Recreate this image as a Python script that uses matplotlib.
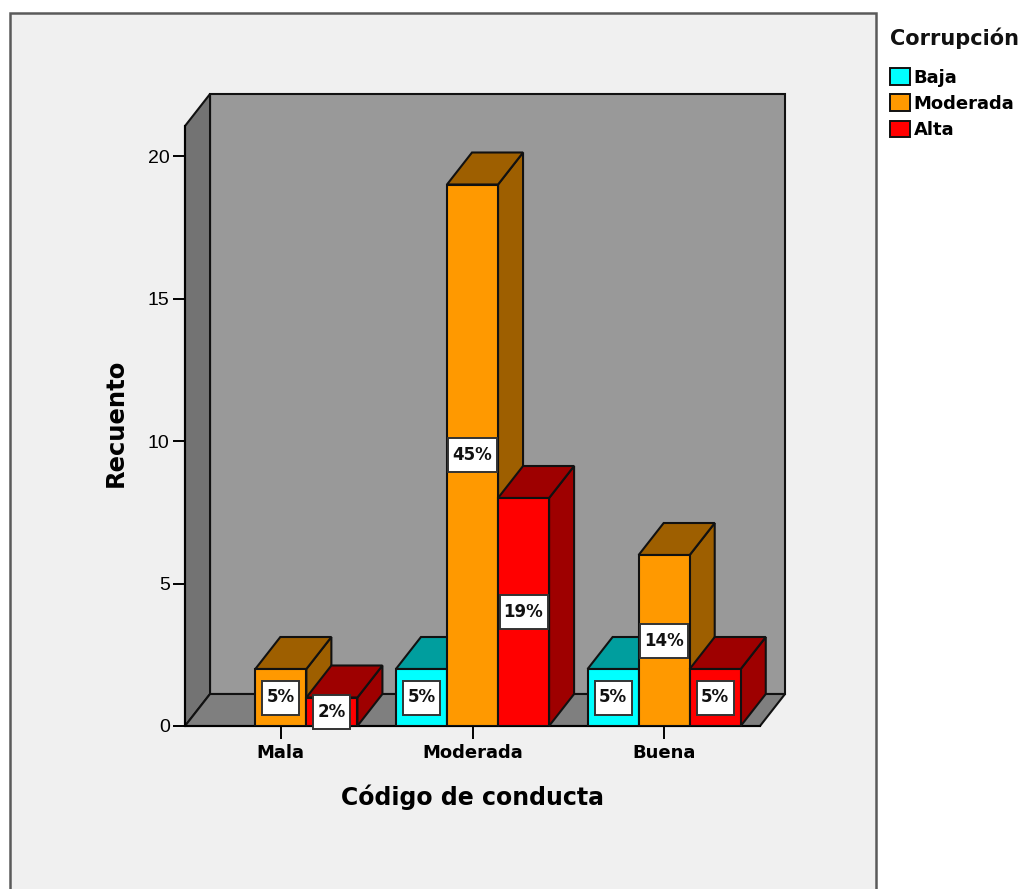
import matplotlib
matplotlib.use("Agg")
import matplotlib.pyplot as plt
from matplotlib.patches import Polygon, Rectangle, Patch
import matplotlib.colors as mcolors

# data
groups = ["Mala", "Moderada", "Buena"]
series = ["Baja", "Moderada", "Alta"]
baja = [0, 2, 2]
moderada = [2, 19, 6]
alta = [1, 8, 2]
pct_baja = ["", "5%", "5%"]
pct_moderada = ["5%", "45%", "14%"]
pct_alta = ["2%", "19%", "5%"]
yticks = [0, 5, 10, 15, 20]

colors = ["#00ffff", "#ff9900", "#ff0000"]
W, H = 1022, 889
plt.rcParams["font.family"] = ["DejaVu Sans"]

fig = plt.figure(figsize=(W / 100, H / 100), dpi=100, facecolor="white")

# grey panel behind the chart
fig.add_artist(Rectangle((10 / W, -0.01), 866 / W, (889 - 13) / H + 0.01, transform=fig.transFigure,
                         facecolor="#f0f0f0", edgecolor="#5a5a5a", lw=1.8, zorder=-1))

ax = fig.add_axes([185 / W, (889 - 726) / H, 575 / W, 600 / H])
ax.set_xlim(-0.5, 2.5)
ax.set_ylim(0, 600 / 28.5)
ax.patch.set_visible(False)
for s in ["top", "right"]:
    ax.spines[s].set_visible(False)
ax.spines["left"].set_linewidth(1.5)
ax.spines["bottom"].set_linewidth(1.5)

# depth of the 3d box in data units
dx = 25 / 191.5
dy = 32 / 28.5
x0, x1 = ax.get_xlim()
y1 = ax.get_ylim()[1]
edge = "#111111"


def poly(pts, color, z=1):
    ax.add_patch(Polygon(pts, closed=True, facecolor=color, edgecolor=edge, lw=1.5, clip_on=False, zorder=z))


poly([(x0 + dx, dy), (x1 + dx, dy), (x1 + dx, y1 + dy), (x0 + dx, y1 + dy)], "#999999")
poly([(x0, 0), (x0 + dx, dy), (x0 + dx, y1 + dy), (x0, y1)], "#737373")
poly([(x0, 0), (x1, 0), (x1 + dx, dy), (x0 + dx, dy)], "#7f7f7f")

barw = 51 / 191.5
offsets = [-barw, 0, barw]
values = [baja, moderada, alta]
labels = [pct_baja, pct_moderada, pct_alta]


def shade(c, f):
    r, g, b = mcolors.to_rgb(c)
    return (r * f, g * f, b * f)


for g in range(len(groups)):
    for s in range(len(series)):
        v = values[s][g]
        if v == 0:
            continue
        left = g + offsets[s] - barw / 2
        right = left + barw
        z = 3
        side_c = shade(colors[s], 0.62)
        poly([(right, 0), (right + dx, dy), (right + dx, v + dy), (right, v)], side_c, z)
        poly([(left, v), (right, v), (right + dx, v + dy), (left + dx, v + dy)], side_c, z)
        ax.bar(left, v, width=barw, align="edge", color=colors[s], edgecolor=edge, lw=1.5, zorder=z)

# percent labels go on top of all the bars, boxes have a fixed height
box_h = 34 / 28.5
for g in range(len(groups)):
    for s in range(len(series)):
        lab = labels[s][g]
        if lab:
            xc = g + offsets[s]
            yc = values[s][g] / 2
            box_w = (15 + 11 * len(lab)) / 191.5
            ax.add_patch(Rectangle((xc - box_w / 2, yc - box_h / 2), box_w, box_h, facecolor="white",
                                   edgecolor="#333333", lw=1.4, zorder=6, clip_on=False))
            ax.text(xc, yc, lab, ha="center", va="center", fontsize=12, fontweight="bold",
                    color="#111111", zorder=7, clip_on=False)

ax.set_yticks(yticks)
ax.set_xticks(range(len(groups)))
ax.set_xticklabels(groups, fontsize=13, fontweight="bold")
ax.tick_params(axis="y", labelsize=13, length=9, width=1.4, pad=2)
ax.tick_params(axis="x", length=9, width=1.4, pad=4)
for t in ax.get_yticklabels():
    t.set_fontfamily("Liberation Sans")
    t.set_fontsize(14)
ax.set_xlabel("Código de conducta", fontsize=17, fontweight="bold", labelpad=16)
ax.set_ylabel("Recuento", fontsize=17.5, fontweight="bold", labelpad=12)
ax.yaxis.set_label_coords(-57 / 575, 0.505)

fig.text(890 / W, 1 - 38 / H, "Corrupción", fontsize=15, fontweight="bold", ha="left", va="center", color="#111111")
handles = [Patch(facecolor=c, edgecolor=edge, lw=1.4) for c in colors]
fig.legend(handles, series, loc="upper left", bbox_to_anchor=(890 / W, 1 - 68 / H),
           frameon=False, handlelength=1.1, handleheight=1.05, handletextpad=0.22,
           labelspacing=0.43, borderpad=0, borderaxespad=0,
           prop={"size": 13, "weight": "bold"})

fig.savefig("out.png", dpi=100)
